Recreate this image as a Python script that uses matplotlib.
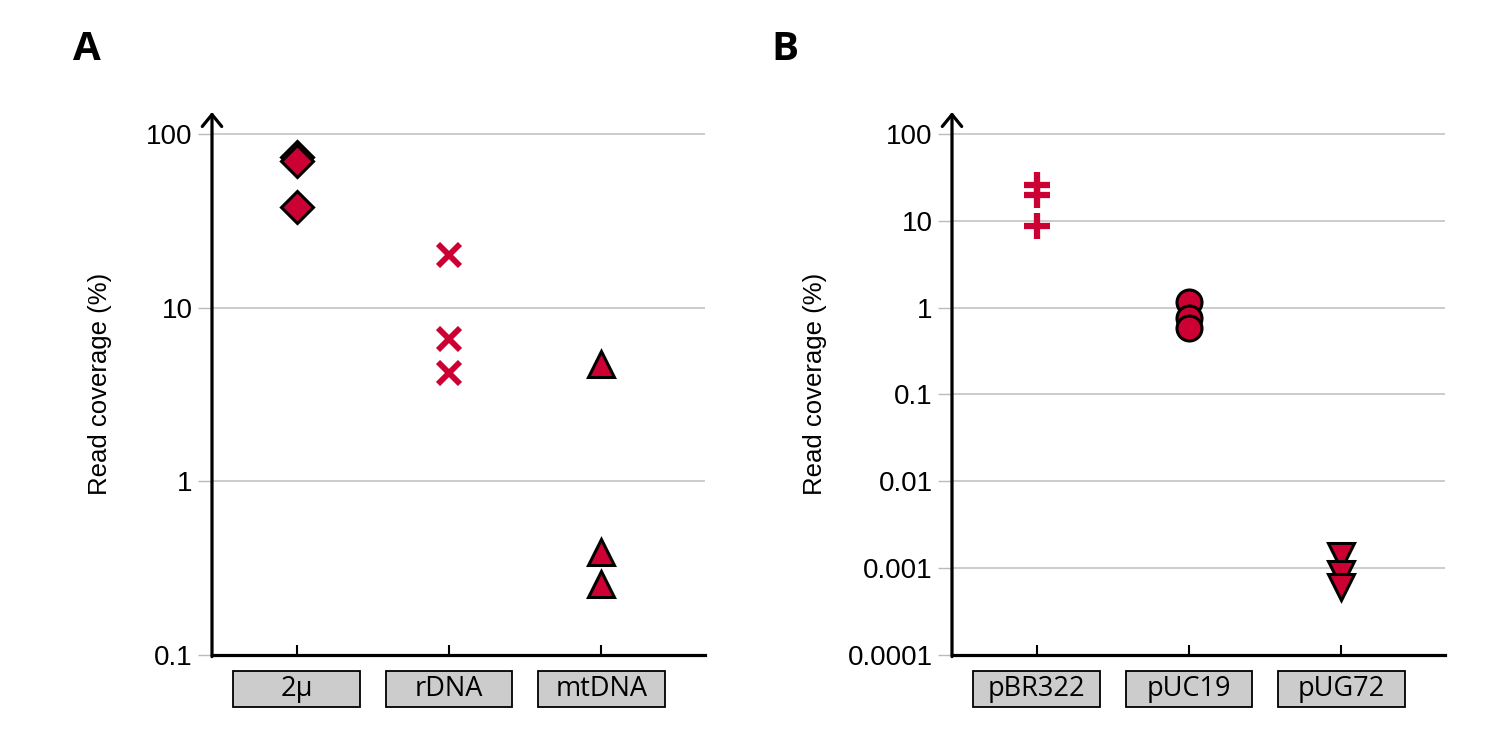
import numpy as np
import matplotlib.pyplot as plt
import matplotlib.transforms as mtransforms
from matplotlib.patches import Rectangle

# panel A values (read coverage, %)
a_cats = ['2\u03bc', 'rDNA', 'mtDNA']
a_2u = [73.7, 70, 38]
a_rdna = [20, 6.6, 4.2]
a_mtdna = [4.77, 0.39, 0.258]

# panel B values (read coverage, %)
b_cats = ['pBR322', 'pUC19', 'pUG72']
b_pbr = [25.9, 19.9, 8.8]
b_puc = [1.16, 0.75, 0.59]
b_pug = [0.00137, 0.00085, 0.0006]

a_ticks = [0.1, 1, 10, 100]
a_ticklabels = ['0.1', '1', '10', '100']
b_ticks = [0.0001, 0.001, 0.01, 0.1, 1, 10, 100]
b_ticklabels = ['0.0001', '0.001', '0.01', '0.1', '1', '10', '100']

red = '#CC0033'
tick_font = 'Liberation Sans'
box_font = 'Open Sans'

fig = plt.figure(figsize=(15, 7.45), dpi=100)
axA = fig.add_axes([212/1500, 90/745, 493/1500, 543/745])
axB = fig.add_axes([952/1500, 90/745, 493/1500, 543/745])


def style_axis(ax, cats, ticks, ticklabels, ylim, label_x):
    ax.set_yscale('log')
    ax.set_ylim(*ylim)
    ax.set_xlim(-0.555, 2.68)
    ax.set_yticks(ticks)
    ax.set_yticklabels(ticklabels, fontsize=20, family=tick_font)
    ax.yaxis.set_minor_locator(plt.NullLocator())
    ax.tick_params(axis='y', direction='out', length=10, width=1, color='#bbbbbb', pad=4)
    ax.set_xticks(range(len(cats)))
    ax.set_xticklabels([])
    ax.tick_params(axis='x', direction='in', length=7, width=1.5, color='black')
    ax.grid(axis='y', color='#c4c4c4', lw=1.2)
    ax.set_axisbelow(True)
    for s in ['top', 'right', 'left']:
        ax.spines[s].set_visible(False)
    ax.spines['bottom'].set_linewidth(2.3)
    ax.spines['bottom'].set_zorder(5)
    # y axis drawn as an arrow
    ax.annotate('', xy=(0, 1), xytext=(0, -0.003), xycoords='axes fraction',
                arrowprops=dict(arrowstyle='->,head_length=0.43,head_width=0.35',
                                lw=2.3, color='black', shrinkA=0, shrinkB=0,
                                mutation_scale=20), annotation_clip=False)
    ax.set_ylabel('Read coverage (%)', fontsize=18.5, family=tick_font)
    ax.yaxis.set_label_coords(label_x, 0.5)
    # grey category boxes under the axis
    trans = mtransforms.blended_transform_factory(ax.transData, ax.transAxes)
    for i, c in enumerate(cats):
        ax.add_patch(Rectangle((i - 0.415, -0.0958), 0.83, 0.066, transform=trans,
                               facecolor='#cccccc', edgecolor='black', lw=1.3,
                               clip_on=False))
        ax.text(i, -0.0625, c, transform=trans, ha='center', va='center',
                fontsize=19.5, family=box_font)


style_axis(axA, a_cats, a_ticks, a_ticklabels, (0.1, 134), -0.203)
style_axis(axB, b_cats, b_ticks, b_ticklabels, (0.0001, 179), -0.254)

filled = dict(color=red, markeredgecolor='black', markeredgewidth=2.2, linestyle='none',
              clip_on=False, zorder=6)
axA.plot([0] * len(a_2u), a_2u, marker='D', markersize=16, **filled)
axA.plot([1] * len(a_rdna), a_rdna, marker='x', markersize=15.5, markeredgewidth=4.2,
         color=red, linestyle='none', zorder=6)
axA.plot([2] * len(a_mtdna), a_mtdna, marker='^', markersize=19, **filled)

axB.plot([0] * len(b_pbr), b_pbr, marker='+', markersize=19, markeredgewidth=4.5,
         color=red, linestyle='none', zorder=6)
axB.plot([1] * len(b_puc), b_puc, marker='o', markersize=18, **filled)
axB.plot([2] * len(b_pug), b_pug, marker='v', markersize=19, **filled)

fig.text(73/1500, 1 - 60/745, 'A', fontsize=29, fontweight='bold', family='Open Sans')
fig.text(771/1500, 1 - 60/745, 'B', fontsize=29, fontweight='bold', family='Open Sans')

fig.savefig('out.png', dpi=100)
